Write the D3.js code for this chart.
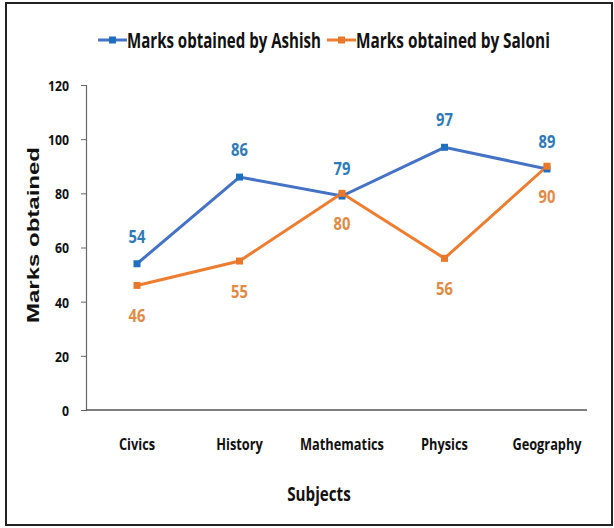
<!DOCTYPE html>
<html>
<head>
<meta charset="utf-8">
<script src="https://cdn.jsdelivr.net/npm/d3@7"></script>
<style>
  html, body { margin: 0; padding: 0; background: #fff; }
  svg { display: block; }
  text { font-family: "Open Sans", "Noto Sans", sans-serif; font-weight: bold; }
</style>
</head>
<body>
<script>
const subjects = ["Civics", "History", "Mathematics", "Physics", "Geography"];
const ashish = [54, 86, 79, 97, 89];
const saloni = [46, 55, 80, 56, 90];
const yTicks = [0, 20, 40, 60, 80, 100, 120];
const seriesNames = ["Marks obtained by Ashish", "Marks obtained by Saloni"];

const W = 614, H = 528;
const svg = d3.select("body").append("svg").attr("width", W).attr("height", H);

// narrow text horizontally around its anchor point, for a condensed look
function condense(sel, factor) {
  sel.each(function () {
    const t = d3.select(this);
    const tx = +t.attr("x") || 0, ty = +t.attr("y") || 0;
    const base = t.attr("transform") || "";
    t.attr("x", 0).attr("y", 0)
      .attr("transform", `${base} translate(${tx},${ty}) scale(${factor},1)`);
  });
}
// condense so that the text spans a given width
function fitWidth(sel, width) {
  sel.each(function () {
    const len = this.getComputedTextLength();
    condense(d3.select(this), width / len);
  });
}

// outer frame
svg.append("rect").attr("x", 6).attr("y", 3).attr("width", 606).attr("height", 522)
  .attr("fill", "#fff").attr("stroke", "#222").attr("stroke-width", 2);

const axisLeft = 86, axisRight = 587;
const y = d3.scaleLinear().domain([0, 120]).range([410, 85]);
const x = d3.scalePoint().domain(subjects).range([137, 547]);

const lineColors = ["#4472C4", "#ED7D31"];
const markerColors = ["#1F6FC0", "#E8782A"];
const labelColors = ["#2E7AB8", "#E08A45"];

// y axis
const yAxis = svg.append("g").attr("transform", `translate(${axisLeft},0)`)
  .call(d3.axisLeft(y).tickValues(yTicks).tickSize(5).tickPadding(12));
yAxis.select(".domain").attr("stroke", "#666").attr("stroke-width", 1.2);
yAxis.selectAll(".tick line").attr("stroke", "#666");
yAxis.selectAll(".tick text").attr("font-size", 15).attr("fill", "#111")
  .style("font-family", "'Open Sans', sans-serif").attr("dy", "0.36em");
condense(yAxis.selectAll(".tick text"), 0.82);

// x axis line
svg.append("line").attr("x1", axisLeft).attr("x2", axisRight)
  .attr("y1", y(0)).attr("y2", y(0)).attr("stroke", "#555").attr("stroke-width", 1.5);

// x category labels
const xLabels = svg.append("g").selectAll("text").data(subjects).join("text")
  .attr("x", d => x(d)).attr("y", 450).attr("text-anchor", "middle")
  .attr("font-size", 16).attr("fill", "#111").text(d => d);
condense(xLabels, 0.8);

// axis titles
const xTitle = svg.append("text").attr("x", 319).attr("y", 501).attr("text-anchor", "middle")
  .attr("font-size", 19).attr("fill", "#111").text("Subjects");
condense(xTitle, 0.8);
svg.append("text").attr("transform", "translate(39,235) rotate(-90)")
  .attr("text-anchor", "middle").attr("font-size", 17).attr("fill", "#111")
  .style("font-family", "'Liberation Sans', Arial, sans-serif")
  .attr("textLength", 176).attr("lengthAdjust", "spacingAndGlyphs")
  .text("Marks obtained");

const line = d3.line().x((d, i) => x(subjects[i])).y(d => y(d));
const data = [ashish, saloni];

data.forEach((vals, s) => {
  svg.append("path").datum(vals).attr("d", line).attr("fill", "none")
    .attr("stroke", lineColors[s]).attr("stroke-width", 3);
});
data.forEach((vals, s) => {
  svg.append("g").selectAll("rect").data(vals).join("rect")
    .attr("x", (d, i) => x(subjects[i]) - 3.5).attr("y", d => y(d) - 3.5)
    .attr("width", 7).attr("height", 7).attr("fill", markerColors[s]);
});

// value labels: Ashish above, Saloni below
const aLabels = svg.append("g").selectAll("text").data(ashish).join("text")
  .attr("x", (d, i) => x(subjects[i])).attr("y", d => y(d) - 21)
  .attr("text-anchor", "middle").attr("font-size", 18).attr("fill", labelColors[0]).text(d => d);
condense(aLabels, 0.82);
const sLabels = svg.append("g").selectAll("text").data(saloni).join("text")
  .attr("x", (d, i) => x(subjects[i])).attr("y", d => y(d) + 37)
  .attr("text-anchor", "middle").attr("font-size", 18).attr("fill", labelColors[1]).text(d => d);
condense(sLabels, 0.82);

// legend
const legendX = [98, 327];
seriesNames.forEach((name, s) => {
  const g = svg.append("g").attr("transform", `translate(${legendX[s]},40)`);
  g.append("line").attr("x1", 0).attr("x2", 29).attr("y1", 0).attr("y2", 0)
    .attr("stroke", lineColors[s]).attr("stroke-width", 3);
  g.append("rect").attr("x", 11).attr("y", -3.5).attr("width", 7).attr("height", 7).attr("fill", markerColors[s]);
  const t = g.append("text").attr("x", 29).attr("y", 7.5).attr("font-size", 21).attr("fill", "#111").text(name);
  fitWidth(t, 194);
});
</script>
</body>
</html>
